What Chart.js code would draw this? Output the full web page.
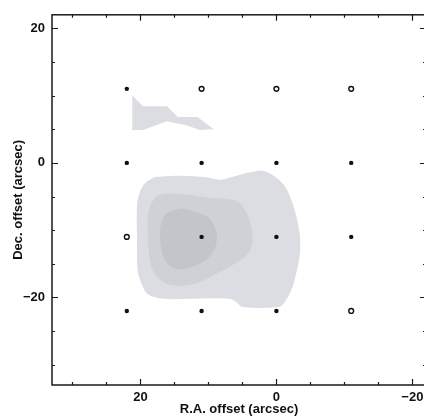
<!DOCTYPE html>
<html>
<head>
<meta charset="utf-8">
<script src="https://cdn.jsdelivr.net/npm/chart.js@4/dist/chart.umd.min.js"></script>
<style>
  html, body { margin: 0; padding: 0; background: #fff; overflow: hidden; width: 424px; height: 417px; }
  canvas { display: block; }
</style>
</head>
<body>
<canvas id="map" width="440" height="417"></canvas>
<script>
// Pointing positions (arcsec offsets from the map centre)
const filledRA  = [22, 22, 11, 0, -11, 11, 0, -11, 22, 11, 0];
const filledDec = [11, 0, 0, 0, 0, -11, -11, -11, -22, -22, -22];
const openRA    = [11, 0, -11, 22, -11];
const openDec   = [11, 11, 11, -11, -22];

// Integrated-intensity contours (R.A., Dec. offsets in arcsec)
const outerRA  = [17.9, 14.9, 10.5, 8.4, 5.9, 2.9, 1.5, 0, -1.2, -2.2, -2.9, -3.4, -3.5, -3.4, -2.9, -2.2, -1.2, -0.4, 5.0, 5.9, 6.9, 9.1, 12.7, 16.4, 18.9, 19.8, 20.4, 20.5, 20.5, 20.1, 19.3];
const outerDec = [-2.1, -1.9, -2.1, -2.5, -1.9, -1.2, -1.3, -2.2, -3.4, -5.5, -7.8, -10.3, -11.8, -14.0, -16.5, -18.9, -20.7, -21.4, -21.4, -20.7, -20.2, -20.1, -20.2, -20.2, -19.5, -18.0, -16.0, -11.1, -6.4, -4.4, -3.0];
const middleRA  = [17.6, 16.1, 13.2, 9.8, 6.2, 5.0, 4.0, 3.5, 3.8, 5.4, 7.9, 9.8, 11.3, 13.5, 16.0, 17.9, 18.6, 18.9, 18.9, 18.6];
const middleDec = [-4.9, -4.6, -4.7, -5.2, -5.5, -6.4, -8.4, -10.8, -12.9, -14.5, -16.0, -17.0, -17.7, -18.2, -18.0, -16.5, -14.5, -11.1, -8.1, -6.4];
const innerRA  = [15.4, 13.5, 11.6, 10.0, 8.9, 8.8, 9.4, 10.5, 12.5, 14.5, 16.1, 16.8, 17.1, 17.0, 16.4];
const innerDec = [-7.1, -6.8, -7.4, -8.1, -10.0, -11.8, -13.3, -14.5, -15.5, -15.8, -14.9, -13.3, -11.4, -9.2, -7.7];
const patchRA  = [21.2, 19.6, 16.1, 14.5, 11.6, 9.2, 11.3, 13.0, 16.1, 17.9, 19.6, 21.2];
const patchDec = [10.0, 8.4, 8.4, 6.8, 6.8, 5.0, 4.9, 5.5, 6.2, 5.5, 4.9, 4.9];

// Axis limits and labelled ticks
const raRange  = [-22, 33];
const decRange = [-33, 22];
const majorTicks = [20, 0, -20];

const toPoints = (xs, ys) => xs.map((x, i) => ({ x: x, y: ys[i] }));
const closed = (xs, ys) => { const p = toPoints(xs, ys); p.push(p[0]); return p; };

function contour(points, colour, order, tension) {
  return {
    data: points,
    showLine: true,
    fill: 'shape',
    backgroundColor: colour,
    borderWidth: 0,
    borderColor: colour,
    pointRadius: 0,
    tension: tension,
    order: order
  };
}

const fmt = v => (v < 0 ? '\u2212' + Math.abs(v) : String(v));
const labelFont = { family: 'Liberation Sans', size: 13, weight: 'bold' };

// Box frame with inward major/minor ticks on all four sides
const frameTicks = {
  id: 'frameTicks',
  afterDraw(chart) {
    const { ctx, chartArea: a, scales: { x, y } } = chart;
    ctx.save();
    ctx.strokeStyle = '#1a1a1a';
    ctx.lineWidth = 1.5;
    ctx.strokeRect(a.left, a.top, a.right - a.left, a.bottom - a.top);
    ctx.lineWidth = 1.2;
    ctx.beginPath();
    for (let v = -20; v <= 30; v += 5) {
      const px = Math.round(x.getPixelForValue(v)) + 0.5;
      const len = v % 20 === 0 ? 6 : 3;
      ctx.moveTo(px, a.bottom); ctx.lineTo(px, a.bottom - len);
      ctx.moveTo(px, a.top); ctx.lineTo(px, a.top + len);
    }
    for (let v = -30; v <= 20; v += 5) {
      const py = Math.round(y.getPixelForValue(v)) + 0.5;
      const len = v % 20 === 0 ? 6 : 3;
      ctx.moveTo(a.left, py); ctx.lineTo(a.left + len, py);
      ctx.moveTo(a.right, py); ctx.lineTo(a.right - len, py);
    }
    ctx.stroke();
    ctx.restore();
  }
};

new Chart(document.getElementById('map'), {
  type: 'scatter',
  data: {
    datasets: [
      {
        label: 'detected',
        data: toPoints(filledRA, filledDec),
        pointStyle: 'circle',
        pointRadius: 2.2,
        backgroundColor: '#111',
        borderColor: '#111',
        borderWidth: 0,
        order: 0
      },
      {
        label: 'not detected',
        data: toPoints(openRA, openDec),
        pointStyle: 'circle',
        pointRadius: 2.4,
        backgroundColor: '#fff',
        borderColor: '#111',
        borderWidth: 1.4,
        order: 0
      },
      contour(closed(innerRA, innerDec), 'rgb(194,197,202)', 1, 0.35),
      contour(closed(middleRA, middleDec), 'rgb(207,209,214)', 2, 0.35),
      contour(closed(outerRA, outerDec), 'rgb(220,221,226)', 3, 0.35),
      contour(closed(patchRA, patchDec), 'rgb(220,221,226)', 3, 0)
    ]
  },
  options: {
    responsive: false,
    animation: false,
    devicePixelRatio: 1,
    layout: { padding: { top: 11, right: 14, left: 0, bottom: 0 } },
    plugins: { legend: { display: false }, tooltip: { enabled: false } },
    scales: {
      x: {
        type: 'linear',
        position: 'bottom',
        reverse: true,
        min: raRange[0],
        max: raRange[1],
        afterFit(s) { s.height = 32; },
        afterBuildTicks(s) { s.ticks = majorTicks.map(v => ({ value: v })); },
        grid: { display: false, drawTicks: false },
        border: { display: false },
        ticks: {
          padding: 5,
          color: '#111',
          font: labelFont,
          callback: v => fmt(v),
          maxRotation: 0
        },
        title: {
          display: true,
          text: 'R.A. offset (arcsec)',
          color: '#111',
          font: labelFont,
          padding: { top: 0, bottom: 0 }
        }
      },
      y: {
        type: 'linear',
        min: decRange[0],
        max: decRange[1],
        afterFit(s) { s.width = 52; },
        afterBuildTicks(s) { s.ticks = majorTicks.map(v => ({ value: v })); },
        grid: { display: false, drawTicks: false },
        border: { display: false },
        ticks: {
          padding: 7,
          color: '#111',
          font: labelFont,
          callback: v => fmt(v)
        },
        title: {
          display: true,
          text: 'Dec. offset (arcsec)',
          color: '#111',
          font: labelFont,
          padding: { top: 11, bottom: 0 }
        }
      }
    }
  },
  plugins: [frameTicks]
});
</script>
</body>
</html>
